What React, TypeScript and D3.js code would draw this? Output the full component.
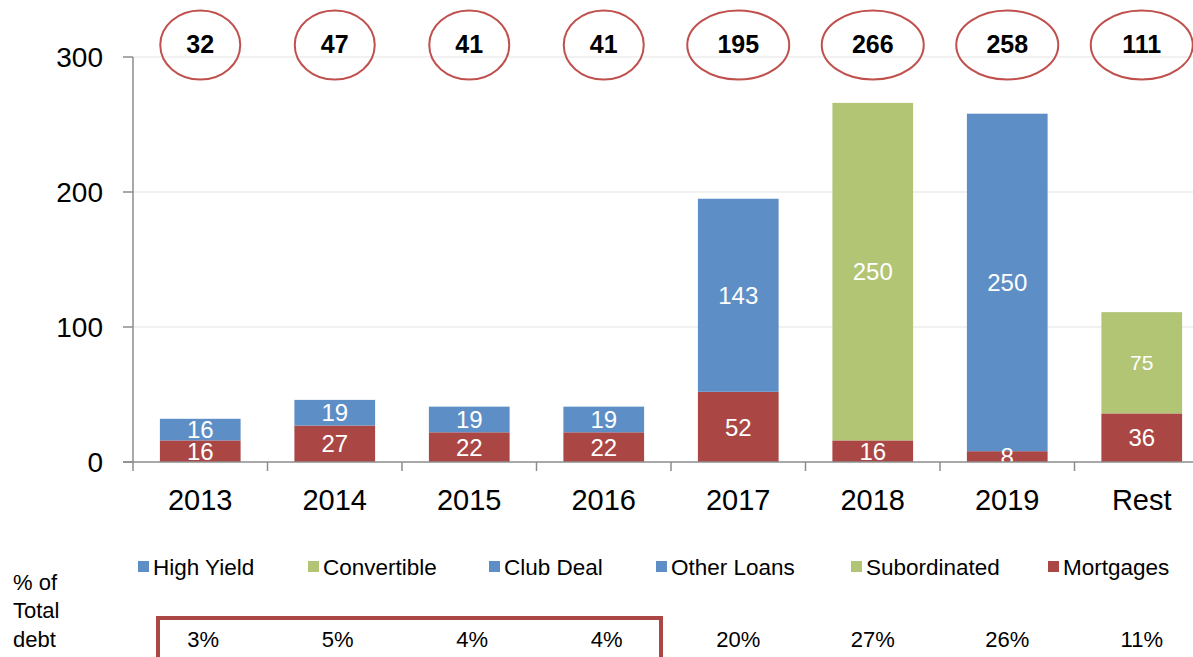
import React from 'react';
import * as d3 from 'd3';

const categories = ['2013', '2014', '2015', '2016', '2017', '2018', '2019', 'Rest'];
const mortgages = [16, 27, 22, 22, 52, 16, 8, 36];
const otherLoans = [16, 19, 19, 19, 0, 0, 0, 0];
const clubDeal = [0, 0, 0, 0, 143, 0, 0, 0];
const highYield = [0, 0, 0, 0, 0, 0, 250, 0];
const convertible = [0, 0, 0, 0, 0, 250, 0, 0];
const subordinated = [0, 0, 0, 0, 0, 0, 0, 75];
const totals = [32, 47, 41, 41, 195, 266, 258, 111];
const pctOfTotal = ['3%', '5%', '4%', '4%', '20%', '27%', '26%', '11%'];
const yTicks = [0, 100, 200, 300];

const BLUE = '#5E8EC6';
const GREEN = '#B2C575';
const RED = '#AA4745';

const seriesList = [
  { key: 'mortgages', name: 'Mortgages', values: mortgages, color: RED },
  { key: 'otherLoans', name: 'Other Loans', values: otherLoans, color: BLUE },
  { key: 'clubDeal', name: 'Club Deal', values: clubDeal, color: BLUE },
  { key: 'highYield', name: 'High Yield', values: highYield, color: BLUE },
  { key: 'convertible', name: 'Convertible', values: convertible, color: GREEN },
  { key: 'subordinated', name: 'Subordinated', values: subordinated, color: GREEN },
];

const legendItems = [
  { name: 'High Yield', color: BLUE, x: 138 },
  { name: 'Convertible', color: GREEN, x: 308 },
  { name: 'Club Deal', color: BLUE, x: 489 },
  { name: 'Other Loans', color: BLUE, x: 656 },
  { name: 'Subordinated', color: GREEN, x: 851 },
  { name: 'Mortgages', color: RED, x: 1048 },
];

const FONT = '"Liberation Sans", Arial, sans-serif';

export default function App() {
  const width = 1193;
  const height = 657;
  const left = 133;
  const bandW = 134.5;

  const x = d3.scaleBand<string>()
    .domain(categories)
    .range([left, left + bandW * categories.length])
    .paddingInner(0.4)
    .paddingOuter(0.2);
  const y = d3.scaleLinear().domain([0, 300]).range([462, 57]);

  const table = categories.map((c, i) => {
    const row: any = { cat: c };
    seriesList.forEach((s) => (row[s.key] = s.values[i]));
    return row;
  });
  const stacked = d3.stack<any>().keys(seriesList.map((s) => s.key))(table);

  const boundaries = categories.map((_, i) => left + i * bandW).concat([left + categories.length * bandW]);

  return (
    <svg width={width} height={height} style={{ position: 'absolute', left: 0, top: 0 }} fontFamily={FONT}>
      <defs>
        <clipPath id="plotClip">
          <rect x={left} y={0} width={width} height={462} />
        </clipPath>
      </defs>
      <rect width={width} height={height} fill="#fff" />
      {/* gridlines */}
      {yTicks.filter((t) => t > 0).map((t) => (
        <line key={t} x1={left} x2={width} y1={y(t)} y2={y(t)} stroke="#E3E3E3" strokeWidth={1} />
      ))}
      {/* bars */}
      {stacked.map((layer, si) => (
        <g key={layer.key}>
          {layer.map((d, i) =>
            d[1] - d[0] > 0 ? (
              <rect
                key={i}
                x={x(categories[i])}
                width={x.bandwidth()}
                y={y(d[1])}
                height={y(d[0]) - y(d[1])}
                fill={seriesList[si].color}
              />
            ) : null
          )}
        </g>
      ))}
      {/* bar labels */}
      <g clipPath="url(#plotClip)">
        {stacked.map((layer, si) =>
          layer.map((d, i) => {
            const v = d[1] - d[0];
            if (v <= 0) return null;
            const cx = (x(categories[i]) as number) + x.bandwidth() / 2;
            const cy = (y(d[0]) + y(d[1])) / 2;
            return (
              <text
                key={layer.key + i}
                x={cx}
                y={cy}
                dy="0.36em"
                textAnchor="middle"
                fill="#fff"
                fontSize={v === 75 ? 21 : 24}
              >
                {v}
              </text>
            );
          })
        )}
      </g>
      {/* axes */}
      <line x1={left} x2={left} y1={y(300)} y2={y(0)} stroke="#8C8C8C" strokeWidth={1.5} />
      <line x1={123} x2={width} y1={y(0)} y2={y(0)} stroke="#8C8C8C" strokeWidth={1.5} />
      {yTicks.map((t) => (
        <g key={t}>
          <line x1={123} x2={left} y1={y(t)} y2={y(t)} stroke="#8C8C8C" strokeWidth={1.5} />
          <text x={103} y={y(t)} dy="0.36em" textAnchor="end" fontSize={28} fill="#000">
            {t}
          </text>
        </g>
      ))}
      {boundaries.map((b, i) => (
        <line key={i} x1={b} x2={b} y1={y(0)} y2={y(0) + 9} stroke="#8C8C8C" strokeWidth={1.5} />
      ))}
      {categories.map((c) => (
        <text
          key={c}
          x={(x(c) as number) + x.bandwidth() / 2}
          y={510}
          textAnchor="middle"
          fontSize={29}
          fill="#000"
        >
          {c}
        </text>
      ))}
      {/* total ellipses */}
      {categories.map((c, i) => {
        const cx = (x(c) as number) + x.bandwidth() / 2;
        const rx = totals[i] >= 100 ? 51 : 40;
        return (
          <g key={c}>
            <ellipse cx={cx} cy={45} rx={rx} ry={34.5} fill="none" stroke="#C0504D" strokeWidth={2} />
            <text x={cx} y={53} textAnchor="middle" fontSize={25} fontWeight="bold" fill="#000">
              {totals[i]}
            </text>
          </g>
        );
      })}
      {/* legend */}
      {legendItems.map((l) => (
        <g key={l.name}>
          <rect x={l.x} y={561} width={11} height={11} fill={l.color} />
          <text x={l.x + 15} y={575} fontSize={22.5} fill="#000">
            {l.name}
          </text>
        </g>
      ))}
      {/* % of total debt */}
      <text x={13} y={590} fontSize={22} fill="#000">% of</text>
      <text x={13} y={618} fontSize={22} fill="#000">Total</text>
      <text x={13} y={647} fontSize={22} fill="#000">debt</text>
      <rect x={158} y={618} width={503} height={60} fill="none" stroke={RED} strokeWidth={4} />
      {categories.map((c, i) => (
        <text
          key={c}
          x={(x(c) as number) + x.bandwidth() / 2 + (i < 4 ? 3 : 0)}
          y={647}
          textAnchor="middle"
          fontSize={22}
          fill="#000"
        >
          {pctOfTotal[i]}
        </text>
      ))}
    </svg>
  );
}
